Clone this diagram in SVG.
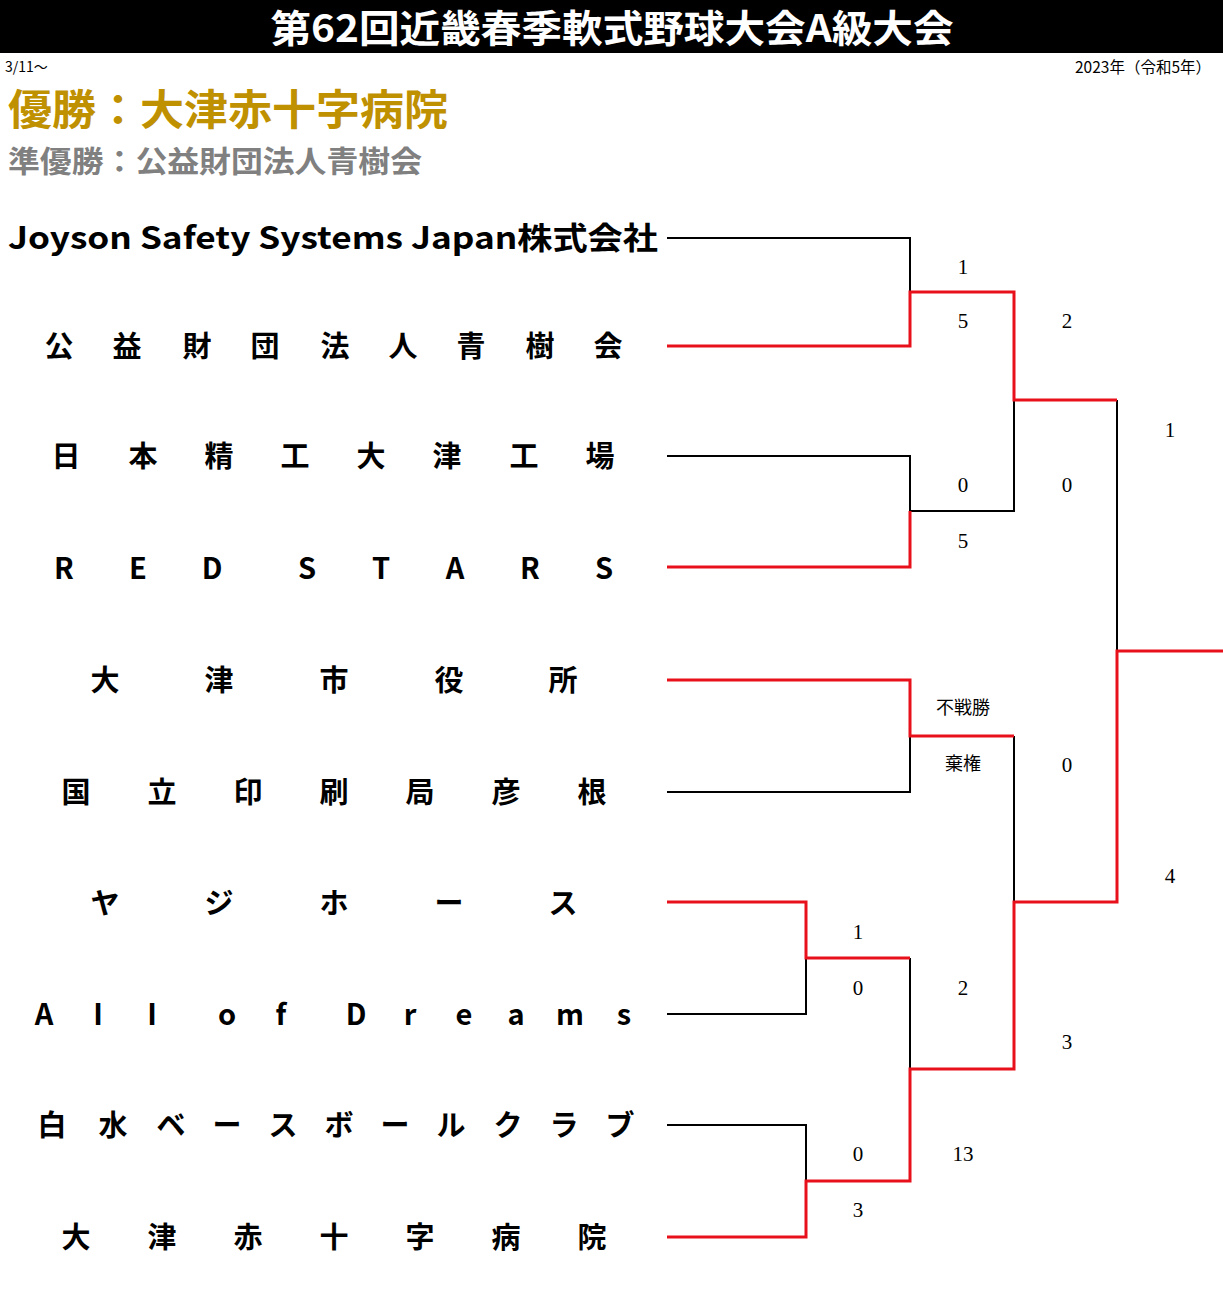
<svg xmlns="http://www.w3.org/2000/svg" width="1223" height="1294" viewBox="0 0 1223 1294">
<style>
.t{font-family:"Noto Sans CJK JP","Noto Sans",sans-serif;font-weight:bold;font-size:29px;fill:#000;text-anchor:middle}
.l{font-family:"Noto Sans","Noto Sans CJK JP",sans-serif}
.s{font-family:"Liberation Serif","Noto Sans CJK JP",serif;font-size:21px;fill:#000;text-anchor:middle}
.sj{font-family:"Noto Sans CJK JP",sans-serif;font-size:18px;fill:#000;text-anchor:middle}
.bk{fill:none;stroke:#000;stroke-width:2}
.rd{fill:none;stroke:#e8101a;stroke-width:3}
</style>
<rect width="1223" height="1294" fill="#fff"/>
<g id="header">
<rect x="0" y="0" width="1223" height="53" fill="#000"/>
<text x="612" y="42" font-family="'Noto Sans CJK JP',sans-serif" font-weight="bold" font-size="38" fill="#fff" text-anchor="middle" textLength="683" lengthAdjust="spacingAndGlyphs">第62回近畿春季軟式野球大会A級大会</text>
<text x="5" y="72" font-family="'Noto Sans CJK JP',sans-serif" font-size="14" fill="#000">3/11〜</text>
<text x="1211" y="73" font-family="'Noto Sans CJK JP',sans-serif" font-size="15.5" fill="#000" text-anchor="end">2023年（令和5年）</text>
<text x="8" y="125" font-family="'Noto Sans CJK JP',sans-serif" font-weight="bold" font-size="42" fill="#bf9000" textLength="440" lengthAdjust="spacingAndGlyphs">優勝：大津赤十字病院</text>
<text x="8" y="172" font-family="'Noto Sans CJK JP',sans-serif" font-weight="bold" font-size="30" fill="#808080" textLength="414" lengthAdjust="spacingAndGlyphs">準優勝：公益財団法人青樹会</text>
</g>
<g id="team1"><text x="8" y="249" font-family="'Noto Sans CJK JP',sans-serif" font-weight="bold" font-size="31" fill="#000" textLength="650" lengthAdjust="spacingAndGlyphs">Joyson Safety Systems Japan株式会社</text></g>
<g id="team2" class="t"><text x="59" y="357">公</text><text x="127" y="357">益</text><text x="197" y="357">財</text><text x="265" y="357">団</text><text x="335" y="357">法</text><text x="403" y="357">人</text><text x="471" y="357">青</text><text x="540" y="357">樹</text><text x="608" y="357">会</text></g>
<g id="team3" class="t"><text x="66" y="467">日</text><text x="143" y="467">本</text><text x="219" y="467">精</text><text x="295" y="467">工</text><text x="371" y="467">大</text><text x="447" y="467">津</text><text x="524" y="467">工</text><text x="600" y="467">場</text></g>
<g id="team4" class="t"><text x="64" y="579">R</text><text x="138" y="579">E</text><text x="212" y="579">D</text><text x="307" y="579">S</text><text x="381" y="579">T</text><text x="455" y="579">A</text><text x="530" y="579">R</text><text x="604" y="579">S</text></g>
<g id="team5" class="t"><text x="105" y="691">大</text><text x="219" y="691">津</text><text x="334" y="691">市</text><text x="449" y="691">役</text><text x="563" y="691">所</text></g>
<g id="team6" class="t"><text x="76" y="803">国</text><text x="162" y="803">立</text><text x="248" y="803">印</text><text x="334" y="803">刷</text><text x="420" y="803">局</text><text x="506" y="803">彦</text><text x="592" y="803">根</text></g>
<g id="team7" class="t"><text x="105" y="914">ヤ</text><text x="219" y="914">ジ</text><text x="334" y="914">ホ</text><text x="449" y="914">ー</text><text x="563" y="914">ス</text></g>
<g id="team8" class="t"><text x="44" y="1025">A</text><text class="l" x="98" y="1025">l</text><text class="l" x="152" y="1025">l</text><text x="227" y="1025">o</text><text x="281" y="1025">f</text><text x="356" y="1025">D</text><text x="410" y="1025">r</text><text x="464" y="1025">e</text><text x="516" y="1025">a</text><text x="570" y="1025">m</text><text x="624" y="1025">s</text></g>
<g id="team9" class="t"><text x="52" y="1136">白</text><text x="113" y="1136">水</text><text x="171" y="1136">ベ</text><text x="227" y="1136">ー</text><text x="283" y="1136">ス</text><text x="339" y="1136">ボ</text><text x="395" y="1136">ー</text><text x="451" y="1136">ル</text><text x="508" y="1136">ク</text><text x="564" y="1136">ラ</text><text x="620" y="1136">ブ</text></g>
<g id="team10" class="t"><text x="76" y="1248">大</text><text x="162" y="1248">津</text><text x="248" y="1248">赤</text><text x="334" y="1248">十</text><text x="420" y="1248">字</text><text x="506" y="1248">病</text><text x="592" y="1248">院</text></g>
<g id="connectors">
<path class="bk" d="M667 238H910V292"/>
<path class="bk" d="M667 456H910V511H1014V400"/>
<path class="bk" d="M1117 400V651"/>
<path class="bk" d="M910 736V792H667"/>
<path class="bk" d="M1014 736V902"/>
<path class="bk" d="M667 1014H806V958"/>
<path class="bk" d="M910 958V1069"/>
<path class="bk" d="M667 1125H806V1181"/>
<path class="rd" d="M667 346H910V292H1014V400H1117"/>
<path class="rd" d="M667 567H910V511"/>
<path class="rd" d="M667 680H910V736H1014"/>
<path class="rd" d="M667 902H806V958H910"/>
<path class="rd" d="M667 1237H806V1181H910V1069H1014V902H1117V651H1223"/>
</g>
<g id="scores">
<text class="s" x="963" y="274">1</text>
<text class="s" x="963" y="328">5</text>
<text class="s" x="1067" y="328">2</text>
<text class="s" x="963" y="492">0</text>
<text class="s" x="963" y="548">5</text>
<text class="s" x="1067" y="492">0</text>
<text class="s" x="1170" y="437">1</text>
<text class="sj" x="963" y="714">不戦勝</text>
<text class="sj" x="963" y="770">棄権</text>
<text class="s" x="1067" y="772">0</text>
<text class="s" x="1170" y="883">4</text>
<text class="s" x="858" y="939">1</text>
<text class="s" x="858" y="995">0</text>
<text class="s" x="963" y="995">2</text>
<text class="s" x="1067" y="1049">3</text>
<text class="s" x="858" y="1161">0</text>
<text class="s" x="858" y="1217">3</text>
<text class="s" x="963" y="1161">13</text>
</g>
</svg>
